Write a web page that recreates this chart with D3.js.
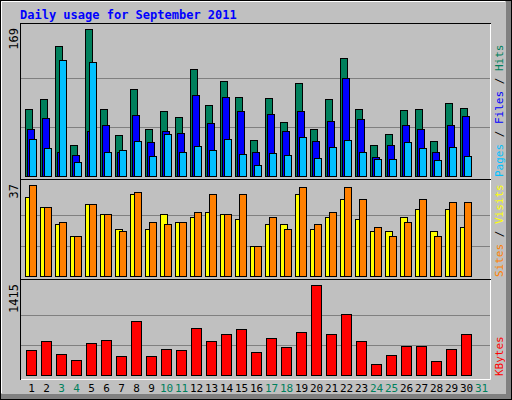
<!DOCTYPE html>
<html>
<head>
<meta charset="utf-8">
<script src="https://cdn.jsdelivr.net/npm/d3@7"></script>
<style>
  body { margin: 0; background: #fff; }
  text { font-family: "DejaVu Sans Mono", monospace; }
</style>
</head>
<body>
<script>
// day numbers (31 slots, September has 30)
var days = d3.range(1, 32);
var weekend = [3, 4, 10, 11, 17, 18, 24, 25, 31];

var hits  = [77, 88, 149, 35, 169, 77, 47, 100, 54, 74, 68, 123, 81, 109, 90, 41, 89, 62, 107, 54, 88, 135, 77, 36, 48, 76, 77, 40, 84, 78];
var files = [54, 66, 27, 24, 51, 58, 27, 70, 39, 52, 49, 93, 61, 91, 75, 27, 71, 52, 75, 40, 63, 112, 65, 22, 35, 58, 54, 27, 59, 69];
var pages = [42, 32, 133, 16, 131, 27, 30, 40, 23, 48, 27, 34, 30, 42, 25, 13, 26, 24, 45, 21, 33, 41, 27, 20, 20, 39, 32, 18, 33, 23];
var visits = [32, 28, 21, 16, 29, 25, 19, 33, 19, 25, 22, 24, 26, 25, 23, 12, 21, 21, 33, 19, 24, 31, 23, 18, 18, 24, 27, 18, 27, 20];
var sites  = [37, 28, 22, 16, 29, 25, 18, 34, 22, 21, 22, 26, 33, 25, 33, 12, 24, 19, 36, 21, 26, 36, 31, 20, 16, 22, 31, 16, 30, 30];
var kbytes = [389, 529, 327, 233, 498, 544, 295, 840, 295, 404, 389, 731, 529, 637, 715, 358, 575, 435, 669, 1415, 637, 948, 529, 171, 311, 451, 451, 218, 404, 637];

var W = 512, H = 400;
var svg = d3.select("body").append("svg").attr("width", W).attr("height", H);

// window frame
svg.append("rect").attr("width", W).attr("height", H).attr("fill", "#c0c0c0");
svg.append("rect").attr("x", 506).attr("y", 0).attr("width", 6).attr("height", H).attr("fill", "#808080");
svg.append("rect").attr("x", 0).attr("y", 394).attr("width", W).attr("height", 6).attr("fill", "#808080");
svg.append("rect").attr("x", 0.5).attr("y", 0.5).attr("width", W - 1).attr("height", H - 1)
  .attr("fill", "none").attr("stroke", "#000");
svg.append("path").attr("d", "M1.5,393V1.5H505").attr("stroke", "#fff").attr("fill", "none");

svg.append("text").attr("x", 20).attr("y", 19)
  .attr("fill", "#0000ff").attr("font-weight", "bold").attr("font-size", 12)
  .text("Daily usage for September 2011");

var x = d3.scaleBand().domain(days).range([24, 489]);

// plot box
svg.append("rect").attr("x", 20).attr("y", 23).attr("width", 471).attr("height", 357).attr("fill", "#c0c0c0");
svg.append("path").attr("d", "M20.5,380V23.5H491").attr("stroke", "#000").attr("fill", "none");
svg.append("path").attr("d", "M490.5,24V379.5H21").attr("stroke", "#fff").attr("fill", "none");

function panel(top, bottom, max, series, label) {
  var y = d3.scaleLinear().domain([0, max]).range([bottom, top + 5.5]);
  var g = svg.append("g");
  g.append("line").attr("x1", 20).attr("x2", 491).attr("y1", top + 0.5).attr("y2", top + 0.5).attr("stroke", "#000");
  g.selectAll(".grid").data([max / 3, max * 2 / 3]).enter().append("line")
    .attr("x1", 21).attr("x2", 490)
    .attr("y1", function (d) { return Math.round(y(d)) + 0.5; })
    .attr("y2", function (d) { return Math.round(y(d)) + 0.5; })
    .attr("stroke", "#808080");
  series.forEach(function (s) {
    g.selectAll(null).data(s.values).enter().append("rect")
      .attr("x", function (d, i) { return x(i + 1) + s.off + 0.5; })
      .attr("y", function (d) { return Math.round(y(d)) + 0.5; })
      .attr("width", s.w)
      .attr("height", function (d) { return bottom - Math.round(y(d)); })
      .attr("fill", s.color).attr("stroke", "#000");
  });
  g.append("text").attr("transform", "translate(18," + (top + 5) + ") rotate(-90)")
    .attr("text-anchor", "end").attr("font-size", 12).attr("fill", "#000").text(max);
  var t = g.append("text").attr("transform", "translate(503," + (bottom + 1) + ") rotate(-90)")
    .attr("font-size", 11);
  label.forEach(function (p) { t.append("tspan").attr("fill", p[1]).text(p[0]); });
}

panel(23, 176, 169, [
  { values: hits, color: "#00805c", off: 1, w: 7 },
  { values: files, color: "#0000ff", off: 3, w: 7 },
  { values: pages, color: "#00c0ff", off: 5, w: 7 }
], [["Pages", "#00c0ff"], [" / ", "#000"], ["Files", "#0000ff"], [" / ", "#000"], ["Hits", "#00805c"]]);

panel(179, 276, 37, [
  { values: visits, color: "#ffff00", off: 1, w: 7 },
  { values: sites, color: "#ff8000", off: 5, w: 7 }
], [["Sites", "#ff8000"], [" / ", "#000"], ["Visits", "#ffff00"]]);

panel(279, 375, 1415, [
  { values: kbytes, color: "#ff0000", off: 2, w: 10 }
], [["KBytes", "#ff0000"]]);

// day labels
svg.selectAll(".day").data(days).enter().append("text")
  .attr("x", function (d) { return x(d) + x.bandwidth() / 2; })
  .attr("y", 392).attr("text-anchor", "middle").attr("font-size", 11)
  .attr("fill", function (d) { return weekend.indexOf(d) >= 0 ? "#00805c" : "#000"; })
  .text(function (d) { return d; });
</script>
</body>
</html>
